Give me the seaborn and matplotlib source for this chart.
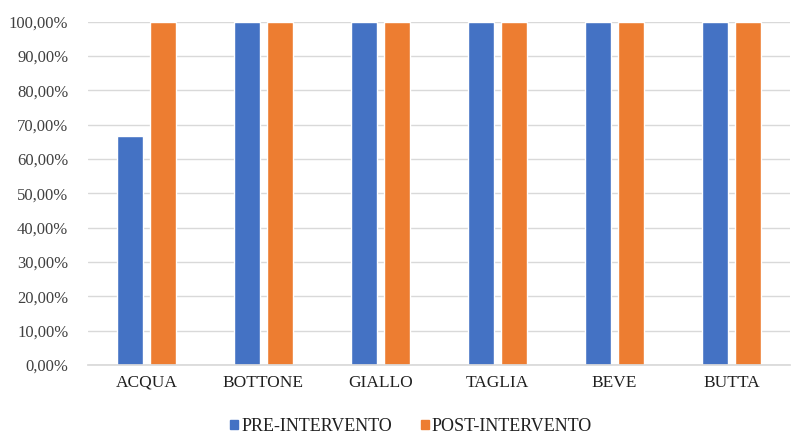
import matplotlib
matplotlib.use("Agg")
import matplotlib.pyplot as plt
import seaborn as sns
import pandas as pd
from matplotlib.ticker import FuncFormatter
from matplotlib.patches import Patch

categories = ["ACQUA", "BOTTONE", "GIALLO", "TAGLIA", "BEVE", "BUTTA"]
pre = [66.67, 100, 100, 100, 100, 100]
post = [100, 100, 100, 100, 100, 100]
series = ["PRE-INTERVENTO", "POST-INTERVENTO"]
colors = ["#4472C4", "#ED7D31"]

df = pd.DataFrame({
    "cat": categories * 2,
    "val": pre + post,
    "serie": [series[0]] * 6 + [series[1]] * 6,
})

sns.set_theme(style="white")
plt.rcParams['font.family'] = ['Liberation Serif', 'DejaVu Serif']

fig = plt.figure(figsize=(7.98, 4.36), dpi=100)
ax = fig.add_axes([0.110, 0.163, 0.880, 0.787])
sns.barplot(data=df, x="cat", y="val", hue="serie", palette=colors,
            width=0.56, gap=0.21, ax=ax, legend=False, saturation=1)
ax.set_ylim(0, 100)
ax.set_xlim(-0.5, 5.5)
ax.set_yticks(range(0, 101, 10))
ax.yaxis.set_major_formatter(FuncFormatter(lambda v, p: f"{v:.2f}%".replace(".", ",")))
ax.grid(axis="y", color="#D9D9D9", linewidth=1)
ax.set_axisbelow(True)
for s in ["top", "right", "left"]:
    ax.spines[s].set_visible(False)
ax.spines["bottom"].set_color("#D9D9D9")
ax.set_xlabel("")
ax.set_ylabel("")
ax.tick_params(axis="y", labelsize=12, colors="#404040", length=0, pad=14)
ax.tick_params(axis="x", labelsize=12.5, colors="#202020", length=0, pad=7)

handles = [Patch(color=c, label=l) for c, l in zip(colors, series)]
fig.legend(handles=handles, loc="lower center", bbox_to_anchor=(0.515, -0.035), ncol=2,
           frameon=False, fontsize=13, handlelength=0.45, handleheight=0.45,
           handletextpad=0.15, columnspacing=1.6, labelcolor="#202020")

fig.savefig("out.png", dpi=100)
